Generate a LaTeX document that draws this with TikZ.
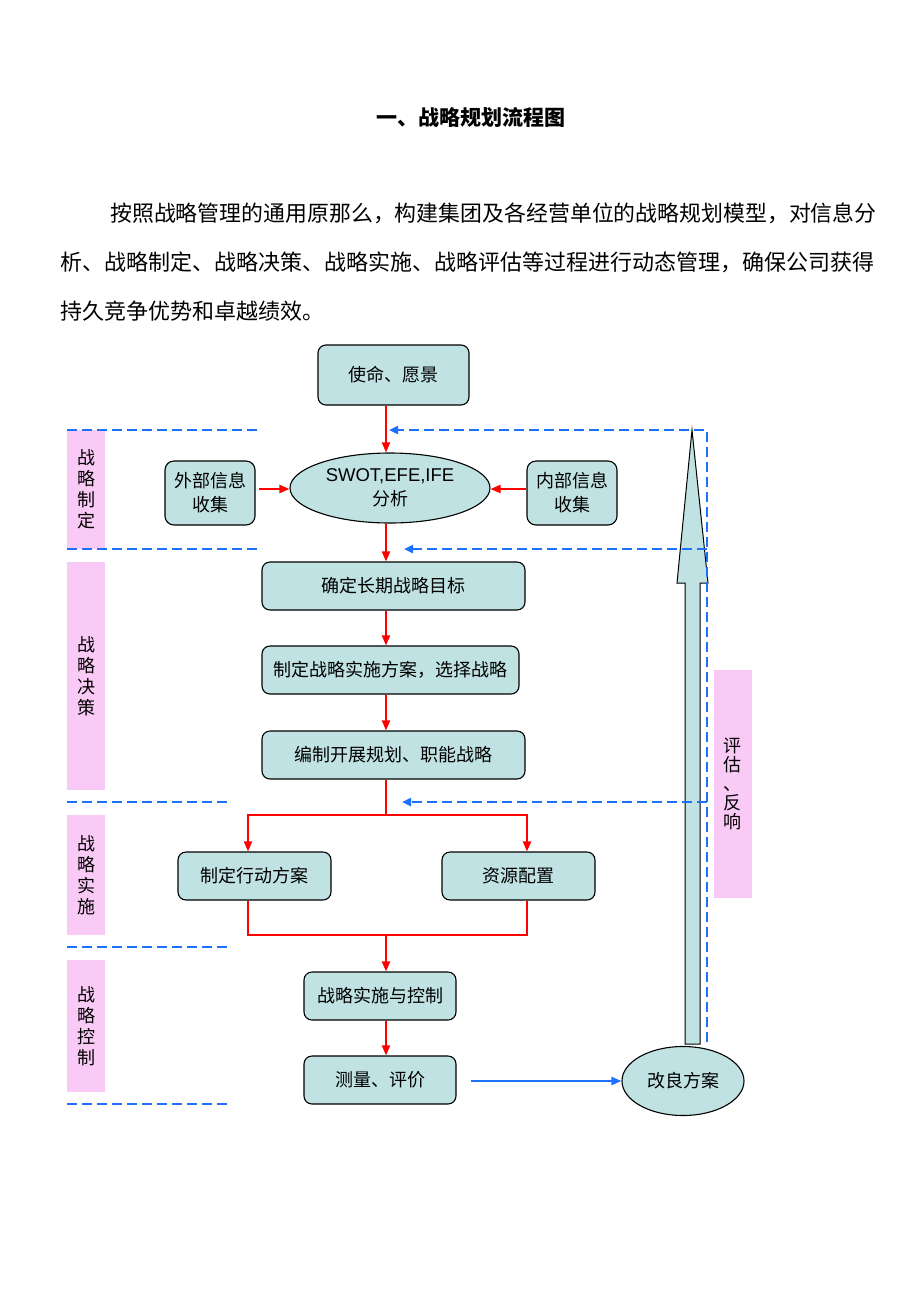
\documentclass[tikz,border=0pt]{standalone}
\usepackage{fontspec}
\setmainfont{Noto Sans CJK SC}
\newfontfamily\arialfont{Liberation Sans}
\usetikzlibrary{shapes.geometric,arrows.meta}
\definecolor{boxfill}{RGB}{192,226,226}
\definecolor{labelpink}{RGB}{250,202,246}
\definecolor{dashblue}{RGB}{30,112,255}
\tikzset{
  stepbox/.style={draw,rounded corners=8pt,fill=boxfill,line width=1.1pt,
    minimum height=48pt,align=center,font=\fontsize{18}{24}\selectfont},
  roundnode/.style={ellipse,draw,fill=boxfill,line width=1.1pt,inner sep=0pt,
    align=center,font=\fontsize{18}{24}\selectfont},
  sidelabel/.style={fill=labelpink,minimum width=38pt,inner sep=0pt,
    align=center,font=\fontsize{18}{21}\selectfont},
  redline/.style={red,line width=2pt},
  redarrow/.style={redline,-{Triangle[length=10pt,width=8pt]}},
  dashline/.style={dashblue,line width=2.8pt,dash pattern=on 10pt off 5pt},
  dasharrow/.style={dashline,-{Triangle[length=9pt,width=8pt]}},
  bluearrow/.style={dashblue,line width=2pt,-{Triangle[length=10pt,width=8pt]}},
}
\begin{document}
\begin{tikzpicture}[x=1pt,y=-1pt]
  \useasboundingbox[fill=white] (0,0) rectangle (920,1302);
  % heading and text
  \node[font=\fontsize{21}{21}\selectfont\bfseries] (title) at (471,117) {一、战略规划流程图};
  \node[anchor=west,inner sep=0pt,font=\fontsize{21.9}{22}\selectfont] (line1) at (110,213)
    {按照战略管理的通用原那么，构建集团及各经营单位的战略规划模型，对信息分};
  \node[anchor=west,inner sep=0pt,font=\fontsize{22}{22}\selectfont] (line2) at (60,262)
    {析、战略制定、战略决策、战略实施、战略评估等过程进行动态管理，确保公司获得};
  \node[anchor=west,inner sep=0pt,font=\fontsize{22}{22}\selectfont] (line3) at (60,311)
    {持久竞争优势和卓越绩效。};

  % stage labels
  \node[sidelabel,minimum height=119pt] (stage1) at (86,489.5) {战\\略\\制\\定};
  \node[sidelabel,minimum height=228pt] (stage2) at (86,676) {战\\略\\决\\策};
  \node[sidelabel,minimum height=120pt] (stage3) at (86,875) {战\\略\\实\\施};
  \node[sidelabel,minimum height=132pt] (stage4) at (86,1026) {战\\略\\控\\制};
  \node[sidelabel,minimum height=228pt,font=\fontsize{18}{19}\selectfont] (feedback) at (732.5,784) {评\\估\\、\\反\\响};

  % boxes
  \node[stepbox,minimum width=151pt,minimum height=60pt] (mission) at (393.5,375) {使命、愿景};
  \node[stepbox,minimum width=90pt,minimum height=64pt,rounded corners=9pt] (extinfo) at (210,493) {外部信息\\收集};
  \node[roundnode,minimum width=200pt,minimum height=70pt] (swot) at (390,488)
    {{\arialfont\fontsize{18.5}{24}\selectfont SWOT,EFE,IFE}\\分析};
  \node[stepbox,minimum width=90pt,minimum height=64pt,rounded corners=9pt] (intinfo) at (572,493) {内部信息\\收集};
  \node[stepbox,minimum width=263pt] (target) at (393.5,586) {确定长期战略目标};
  \node[stepbox,minimum width=257pt] (choose) at (390.5,670) {制定战略实施方案，选择战略};
  \node[stepbox,minimum width=263pt] (plan) at (393.5,755) {编制开展规划、职能战略};
  \node[stepbox,minimum width=153pt] (action) at (254.5,876) {制定行动方案};
  \node[stepbox,minimum width=153pt] (resource) at (518.5,876) {资源配置};
  \node[stepbox,minimum width=152pt] (control) at (380,996) {战略实施与控制};
  \node[stepbox,minimum width=152pt] (measure) at (380,1080) {测量、评价};
  \node[roundnode,minimum width=122pt,minimum height=69pt] (improve) at (683,1081) {改良方案};

  % big feedback arrow
  \draw[fill=boxfill,line width=1pt] (685,1044) -- (685,583) -- (677,583) -- (692,430)
    -- (708,583) -- (700,583) -- (700,1044) -- cycle;

  % red flow
  \coordinate (spine) at (386,0);
  \coordinate (split) at (386,815);
  \coordinate (merge) at (386,935);
  \coordinate (leftfork) at (248,0);
  \coordinate (rightfork) at (527,0);
  \draw[redarrow] (spine |- mission.south) -- (spine |- swot.north);
  \draw[redarrow] (extinfo.east |- 0,489) ++(3,0) -- (swot.west |- 0,489);
  \draw[redarrow] (intinfo.west |- 0,489) -- (swot.east |- 0,489);
  \draw[redarrow] (spine |- swot.south) -- (spine |- target.north);
  \draw[redarrow] (spine |- target.south) -- (spine |- choose.north);
  \draw[redarrow] (spine |- choose.south) -- (spine |- plan.north);
  \draw[redline] (spine |- plan.south) -- (split);
  \draw[redarrow] (split) -| (leftfork |- action.north);
  \draw[redarrow] (split) -| (rightfork |- resource.north);
  \draw[redline] (leftfork |- action.south) |- (merge) -| (rightfork |- resource.south);
  \draw[redarrow] (merge) -- (spine |- control.north);
  \draw[redarrow] (spine |- control.south) -- (spine |- measure.north);

  % blue feedback
  \draw[bluearrow,shorten <=14pt] (measure.east |- improve.west) -- (improve.west);
  \coordinate (loopbot) at (707,1042);
  \coordinate (looptop) at (707,430);
  \draw[dasharrow] (loopbot) -- (looptop) -- (389,430);
  \draw[dasharrow] (707,549) -- (404,549);
  \draw[dasharrow] (707,802) -- (402,802);
  \draw[dashline] (67,430) -- (262,430);
  \draw[dashline] (67,549) -- (262,549);
  \draw[dashline] (67,802) -- (230,802);
  \draw[dashline] (67,947) -- (230,947);
  \draw[dashline] (67,1104) -- (230,1104);
\end{tikzpicture}
\end{document}
